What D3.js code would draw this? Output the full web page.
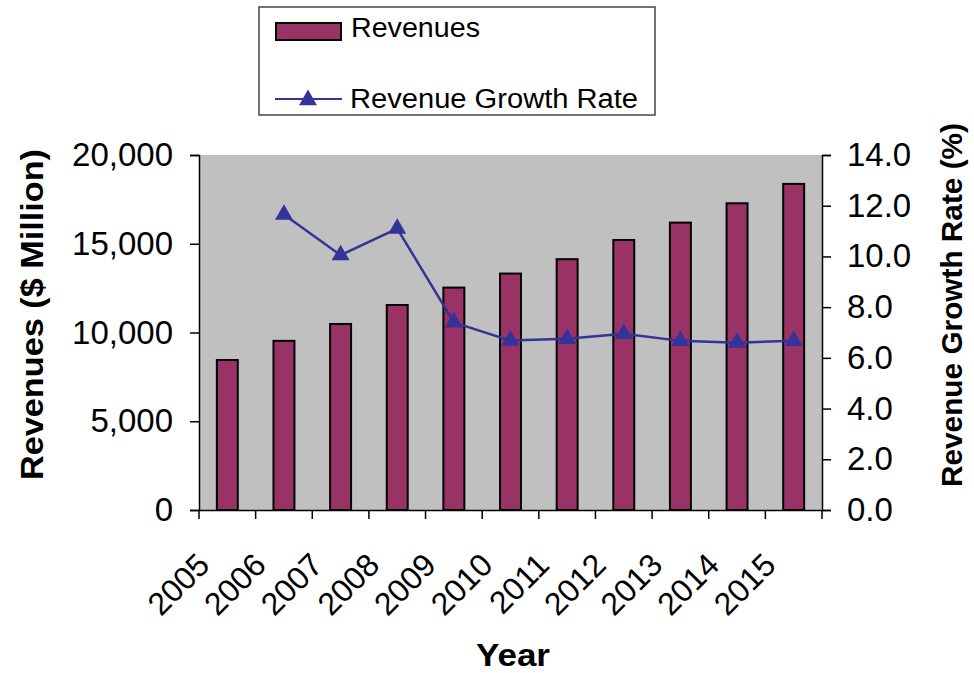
<!DOCTYPE html>
<html>
<head>
<meta charset="utf-8">
<script src="https://cdn.jsdelivr.net/npm/d3@7"></script>
<style>
    body { margin: 0; background: #fff; }
    text { font-family: "Liberation Sans", Arial, sans-serif; fill: #000; }
</style>
</head>
<body>
<svg width="974" height="673"></svg>
<script>
// chart data
var years = ['2005', '2006', '2007', '2008', '2009', '2010', '2011', '2012', '2013', '2014', '2015'];
var revenues = [8450, 9530, 10480, 11550, 12530, 13320, 14130, 15210, 16190, 17280, 18370];
var growthRates = [null, 11.65, 10.05, 11.1, 7.4, 6.68, 6.75, 6.95, 6.67, 6.6, 6.67];
var revenueTicks = [0, 5000, 10000, 15000, 20000];
var growthTicks = [0, 2, 4, 6, 8, 10, 12, 14];

var barColor = '#993366';
var lineColor = '#333399';

var svg = d3.select('svg');

// plot area
var padding = {t: 155, r: 152, b: 163, l: 199};
var chartWidth = +svg.attr('width') - padding.l - padding.r;
var chartHeight = +svg.attr('height') - padding.t - padding.b;

var xScale = d3.scaleBand().domain(years).range([0, chartWidth]).padding(0);
var yLeft = d3.scaleLinear().domain([0, 20000]).range([chartHeight, 0]);
var yRight = d3.scaleLinear().domain([0, 14]).range([chartHeight, 0]);

var chartG = svg.append('g')
    .attr('transform', 'translate(' + [padding.l, padding.t] + ')');

chartG.append('rect')
    .attr('width', chartWidth)
    .attr('height', chartHeight)
    .attr('fill', '#c0c0c0');

// bars
var barWidth = xScale.bandwidth() * 0.37;
chartG.selectAll('.bar')
    .data(revenues)
    .enter()
    .append('rect')
    .attr('class', 'bar')
    .attr('x', function(d, i) { return xScale(years[i]) + xScale.bandwidth() / 2 - barWidth / 2; })
    .attr('y', function(d) { return yLeft(d); })
    .attr('width', barWidth)
    .attr('height', function(d) { return chartHeight - yLeft(d); })
    .attr('fill', barColor)
    .attr('stroke', '#000')
    .attr('stroke-width', 2);

// growth rate line
var points = growthRates.map(function(d, i) { return {year: years[i], rate: d}; })
    .filter(function(d) { return d.rate !== null; });

var line = d3.line()
    .x(function(d) { return xScale(d.year) + xScale.bandwidth() / 2; })
    .y(function(d) { return yRight(d.rate); });

chartG.append('path')
    .datum(points)
    .attr('d', line)
    .attr('fill', 'none')
    .attr('stroke', lineColor)
    .attr('stroke-width', 2.5);

var triangle = d3.symbol().type(d3.symbolTriangle).size(140);
chartG.selectAll('.marker')
    .data(points)
    .enter()
    .append('path')
    .attr('class', 'marker')
    .attr('d', triangle)
    .attr('transform', function(d) {
        return 'translate(' + [xScale(d.year) + xScale.bandwidth() / 2, yRight(d.rate)] + ')';
    })
    .attr('fill', lineColor);

// axes
var leftAxis = d3.axisLeft(yLeft).tickValues(revenueTicks).tickSize(9).tickPadding(17)
    .tickFormat(d3.format(','));
var rightAxis = d3.axisRight(yRight).tickValues(growthTicks).tickSize(9).tickPadding(16)
    .tickFormat(d3.format('.1f'));
var bottomAxis = d3.axisBottom(xScale).tickSize(0).tickFormat('');

var leftG = chartG.append('g').call(leftAxis);
var rightG = chartG.append('g').attr('transform', 'translate(' + chartWidth + ',0)').call(rightAxis);
var bottomG = chartG.append('g').attr('transform', 'translate(0,' + chartHeight + ')').call(bottomAxis);

[leftG, rightG, bottomG].forEach(function(g) {
    g.select('.domain').attr('stroke', '#000').attr('stroke-width', 1.5);
    g.selectAll('.tick line').attr('stroke', '#000').attr('stroke-width', 1.5);
    g.selectAll('text').attr('font-size', '33px').attr('fill', '#000')
        .style('font-family', '"Liberation Sans", Arial, sans-serif');
});

// category boundary ticks (between bars)
var boundaries = years.map(function(y) { return xScale(y); }).concat([chartWidth]);
bottomG.selectAll('.boundary')
    .data(boundaries)
    .enter()
    .append('line')
    .attr('x1', function(d) { return d; })
    .attr('x2', function(d) { return d; })
    .attr('y1', 0)
    .attr('y2', 9)
    .attr('stroke', '#000')
    .attr('stroke-width', 1.5);

// rotated year labels
bottomG.selectAll('.year-label')
    .data(years)
    .enter()
    .append('text')
    .attr('class', 'year-label')
    .attr('text-anchor', 'end')
    .attr('font-size', '32px')
    .attr('transform', function(d) {
        return 'translate(' + [xScale(d) + xScale.bandwidth() / 2 - 16, 57] + ') rotate(-45)';
    })
    .text(function(d) { return d; });

// axis titles
svg.append('text')
    .attr('transform', 'translate(43,' + (padding.t + chartHeight / 2 - 18) + ') rotate(-90)')
    .attr('text-anchor', 'middle')
    .attr('font-size', '31px')
    .attr('font-weight', 700)
    .attr('textLength', 331)
    .attr('lengthAdjust', 'spacingAndGlyphs')
    .text('Revenues ($ Million)');

svg.append('text')
    .attr('transform', 'translate(962,305) rotate(-90)')
    .attr('text-anchor', 'middle')
    .attr('font-size', '30px')
    .attr('font-weight', 700)
    .attr('textLength', 364)
    .attr('lengthAdjust', 'spacingAndGlyphs')
    .text('Revenue Growth Rate (%)');

svg.append('text')
    .attr('x', 513)
    .attr('y', 666)
    .attr('text-anchor', 'middle')
    .attr('font-size', '31px')
    .attr('font-weight', 700)
    .attr('textLength', 74)
    .attr('lengthAdjust', 'spacingAndGlyphs')
    .text('Year');

// legend
var legendG = svg.append('g').attr('transform', 'translate(259,7)');
legendG.append('rect')
    .attr('width', 396)
    .attr('height', 108)
    .attr('fill', '#fff')
    .attr('stroke', '#444')
    .attr('stroke-width', 1.5);

legendG.append('rect')
    .attr('x', 17)
    .attr('y', 16)
    .attr('width', 65)
    .attr('height', 17)
    .attr('fill', barColor)
    .attr('stroke', '#000')
    .attr('stroke-width', 2);

legendG.append('text')
    .attr('x', 92)
    .attr('y', 30)
    .attr('font-size', '27px')
    .attr('textLength', 129)
    .attr('lengthAdjust', 'spacingAndGlyphs')
    .text('Revenues');

legendG.append('line')
    .attr('x1', 16)
    .attr('x2', 83)
    .attr('y1', 92)
    .attr('y2', 92)
    .attr('stroke', lineColor)
    .attr('stroke-width', 2);

legendG.append('path')
    .attr('d', triangle)
    .attr('transform', 'translate(49,93)')
    .attr('fill', lineColor);

legendG.append('text')
    .attr('x', 91)
    .attr('y', 101)
    .attr('font-size', '27px')
    .attr('textLength', 288)
    .attr('lengthAdjust', 'spacingAndGlyphs')
    .text('Revenue Growth Rate');
</script>
</body>
</html>
